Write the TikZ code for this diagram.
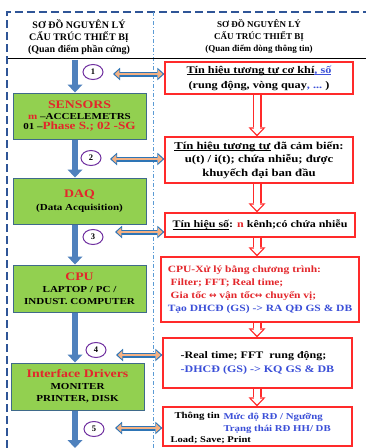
\documentclass[tikz,border=0pt]{standalone}
\usepackage{fontspec}
\setmainfont{Liberation Serif}
\newfontfamily\wf{Liberation Serif}[FakeStretch=1.2]
\newfontfamily\arrf{DejaVu Sans}
\usetikzlibrary{arrows.meta,shapes.geometric,calc}
\definecolor{boxgreen}{HTML}{92D050}
\definecolor{boxborder}{HTML}{3F6A8A}
\definecolor{arrblue}{HTML}{4F81BD}
\definecolor{arrorange}{HTML}{F4B183}
\definecolor{dblblue}{HTML}{2E75B6}
\definecolor{cpurple}{HTML}{7030A0}
\definecolor{tred}{HTML}{E3262B}
\definecolor{tblue}{HTML}{3B4FD8}
\definecolor{boxred}{HTML}{FF2A2A}
\definecolor{framecol}{HTML}{2F5597}
\definecolor{sepcol}{HTML}{5B9BD5}
\newcommand{\smallb}{\fontsize{9.2}{11}\selectfont}
\newcommand{\myul}[1]{\leavevmode\setbox0\hbox{#1}\rlap{\rule[-1.7pt]{\wd0}{0.7pt}}\box0\relax}
\newcommand{\lr}{{\arrf\fontsize{9}{9}\selectfont ↔}}
\begin{document}
\begin{tikzpicture}[x=1pt,y=-1pt,
  every node/.style={font=\bfseries},
  hwbox/.style={draw=boxborder, line width=1pt, fill=boxgreen, minimum width=133pt, minimum height=46pt, align=center, inner sep=1pt, font=\wf\bfseries},
  rbox/.style={draw=boxred, line width=1.2pt, fill=white, inner sep=2pt},
  circ/.style={ellipse, draw=cpurple, line width=1pt, fill=white, minimum width=20pt, minimum height=15pt, inner sep=0pt, font=\bfseries\fontsize{8.5}{8}\selectfont},
  barr/.style={line width=6.5pt, draw=arrblue, -{Triangle[width=15pt,length=8pt,line width=0pt]}},
  dbl/.style={line width=5pt, draw=dblblue, {Triangle[width=12.5pt,length=7pt,line width=0pt]}-{Triangle[width=12.5pt,length=7pt,line width=0pt]},
     postaction={draw=arrorange, line width=2.6pt, shorten <=1.8pt, shorten >=1.8pt, {Triangle[width=8.5pt,length=4.5pt,line width=0pt]}-{Triangle[width=8.5pt,length=4.5pt,line width=0pt]}}},
  harr/.style={line width=9pt, draw=boxred, -{Triangle[width=17pt,length=9pt,line width=0pt]},
     postaction={draw=white, line width=6pt, shorten >=2pt, -{Triangle[width=11.5pt,length=5.8pt,line width=0pt]}}},
  framedash/.style={draw=framecol, line width=1.2pt, dash pattern=on 8pt off 4pt},
  sepdash/.style={draw=sepcol, line width=0.8pt, dash pattern=on 4pt off 2pt on 1pt off 2pt}
]
\useasboundingbox[fill=white] (0,0) rectangle (366,448);
% frame
\draw[framedash] (7,448) -- (7,12) -- (366,12);
\draw[sepdash] (153,12) -- (153,448);
\draw[black, line width=1.5pt] (8,58.5) -- (366,58.5);
% headers
\node[align=center, font=\bfseries\fontsize{10}{12}\selectfont] (lhead) at (79,37) {SƠ ĐỒ NGUYÊN LÝ\\CẤU TRÚC THIẾT BỊ\\(Quan điểm phần cứng)};
\node[align=center, font=\bfseries\fontsize{9}{12}\selectfont] (rhead) at (259,36) {SƠ ĐỒ NGUYÊN LÝ\\CẤU TRÚC THIẾT BỊ\\(Quan điểm dòng thông tin)};
% left boxes
\node[hwbox] (sensors) at (79.5,116) {{\fontsize{11.5}{13}\selectfont\color{tred}SENSORS}\\[-1pt]
  {\smallb\textcolor{tred}{m} –ACCELEMETRS}\\[-1.5pt]
  {\smallb 01 –\textcolor{tred}{\fontsize{11}{12}\selectfont Phase S.; 02 -SG}}};
\node[hwbox] (daq) at (79.5,201) {{\fontsize{11.5}{13}\selectfont\color{tred}DAQ}\\[1pt]
  {\smallb (Data Acquisition)}};
\node[hwbox, minimum height=47pt] (cpu) at (79.5,288.5) {{\fontsize{11.5}{13}\selectfont\color{tred}CPU}\\
  {\smallb LAPTOP / PC /}\\{\smallb INDUST. COMPUTER}};
\node[hwbox, minimum height=47pt] (iface) at (77.5,386.5) {{\fontsize{11.5}{13}\selectfont\color{tred}Interface Drivers}\\
  {\smallb MONITER}\\{\smallb PRINTER, DISK}};
% right boxes
\node[rbox, minimum width=188pt, minimum height=32pt, align=center, font=\wf\bfseries\fontsize{10.2}{15}\selectfont] (r1) at (259,78)
  {\myul{Tín hiệu tương tự cơ khí}\textcolor{tblue}{\myul{, số}}\\(rung động, vòng quay\textcolor{tblue}{, ...}~)};
\node[rbox, minimum width=188pt, minimum height=46pt, align=center, font=\wf\bfseries\fontsize{10.6}{13.5}\selectfont] (r2) at (259,160)
  {\myul{Tín hiệu tương tự} đã cảm biến:\\u(t) / i(t); chứa nhiễu; được\\khuyếch đại ban đầu};
\node[rbox, minimum width=190pt, minimum height=24pt, align=center, font=\wf\bfseries\fontsize{10}{12}\selectfont] (r3) at (260,225)
  {\myul{Tín hiệu số}: \textcolor{tred}{n} kênh;có chứa nhiễu};
\node[rbox, minimum width=198pt, minimum height=65pt, align=left, font=\wf\bfseries\fontsize{9.6}{12.8}\selectfont, text=tred] (r4) at (260,289.5)
  {CPU-Xử lý bằng chương trình:\\ \ Filter; FFT; Real time;\\ \ Gia tốc \lr\ vận tốc\lr\ chuyển vị;\\\textcolor{tblue}{Tạo DHCĐ (GS) -> RA QĐ GS \& DB}};
\node[rbox, minimum width=189pt, minimum height=50pt, align=left, font=\wf\bfseries\fontsize{10}{14}\selectfont] (r5) at (257.5,363)
  {-Real time; FFT\ \ rung động;\\\textcolor{tblue}{-DHCĐ (GS) -> KQ GS \& DB}};
\node[rbox, minimum width=189pt, minimum height=39pt] (r6) at (257.5,426.5) {};
\node[anchor=west, font=\wf\bfseries\fontsize{9}{9}\selectfont] (t6a) at (171,416) {Thông tin};
\node[anchor=west, font=\wf\bfseries\fontsize{9}{10}\selectfont, text=tblue] (t6b) at (220,417.5) {Mức độ RĐ / Ngưỡng};
\node[anchor=west, font=\wf\bfseries\fontsize{9}{10}\selectfont, text=tblue] (t6c) at (220,429.5) {Trạng thái RĐ HH/ DB};
\node[anchor=west, font=\wf\bfseries\fontsize{8.8}{9}\selectfont] (t6d) at (167,440) {Load; Save; Print};
% blue main arrows
\coordinate (btop) at (75,59.5);
\coordinate (bbot) at (75,448);
\draw[barr] (btop) -- (btop |- sensors.north);
\draw[barr] (btop |- sensors.south) -- (btop |- daq.north);
\draw[barr] (btop |- daq.south) -- (btop |- cpu.north);
\draw[barr] (btop |- cpu.south) -- (btop |- iface.north);
\draw[barr] (btop |- iface.south) -- (bbot);
% circles
\node[circ] (c1) at (93,72) {1};
\node[circ] (c2) at (91,158) {2};
\node[circ] (c3) at (93,237) {3};
\node[circ] (c4) at (96,350) {4};
\node[circ] (c5) at (94,429) {5};
% double arrows
\coordinate (d1) at (113,74);
\coordinate (d2) at (110,159);
\coordinate (d3) at (115,232);
\coordinate (d4) at (116,355);
\coordinate (d5) at (115,428);
\draw[dbl] (d1) -- (d1 -| r1.west);
\draw[dbl] (d2) -- (d2 -| r2.west);
\draw[dbl] (d3) -- (d3 -| r3.west);
\draw[dbl] (d4) -- (d4 -| r5.west);
\draw[dbl] (d5) -- (d5 -| r6.west);
% red hollow arrows
\coordinate (hx) at (257,0);
\draw[harr] (r1.south -| hx) -- (r2.north -| hx);
\draw[harr] (r2.south -| hx) -- (r3.north -| hx);
\draw[harr] (r3.south -| hx) -- (r4.north -| hx);
\draw[harr] (r4.south -| hx) -- (r5.north -| hx);
\draw[harr] (r5.south -| hx) -- (r6.north -| hx);
\end{tikzpicture}
\end{document}
